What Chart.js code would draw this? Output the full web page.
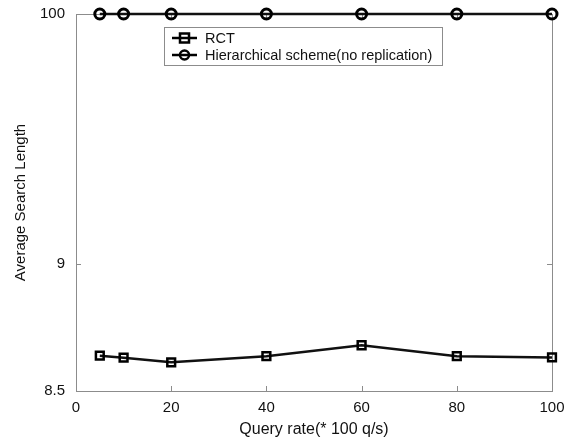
<!DOCTYPE html>
<html lang="en">
<head>
  <meta charset="UTF-8">
  <title>Average Search Length</title>
  <script src="https://cdn.jsdelivr.net/npm/chart.js"></script>
  <style>
    body { margin: 0; background: #fff; }
    #wrap { width: 568px; height: 442px; }
  </style>
</head>
<body>
  <div id="wrap"><canvas id="chart" width="568" height="442"></canvas></div>
  <script>
    const queryRates = [5, 10, 20, 40, 60, 80, 100];
    const rctValues = [8.639, 8.631, 8.613, 8.637, 8.680, 8.637, 8.632];
    const hierValues = [100, 100, 100, 100, 100, 100, 100];
    const xTicks = [0, 20, 40, 60, 80, 100];
    const yTicks = [8.5, 9, 100];
    // fraction of the plot height where each y tick sits (the axis is broken)
    const yTickFractions = [0, 0.337, 1];

    class BrokenScale extends Chart.LinearScale {
      buildTicks() {
        return yTicks.map(v => ({ value: v }));
      }
      toDecimal(v) {
        for (let i = 0; i < yTicks.length - 1; i++) {
          if (v <= yTicks[i + 1] || i === yTicks.length - 2) {
            const t = (v - yTicks[i]) / (yTicks[i + 1] - yTicks[i]);
            return yTickFractions[i] + t * (yTickFractions[i + 1] - yTickFractions[i]);
          }
        }
      }
      getPixelForValue(v) {
        return this.getPixelForDecimal(this.toDecimal(v));
      }
      getValueForPixel(p) {
        const d = this.getDecimalForPixel(p);
        for (let i = 0; i < yTicks.length - 1; i++) {
          if (d <= yTickFractions[i + 1] || i === yTicks.length - 2) {
            const t = (d - yTickFractions[i]) / (yTickFractions[i + 1] - yTickFractions[i]);
            return yTicks[i] + t * (yTicks[i + 1] - yTicks[i]);
          }
        }
      }
    }
    BrokenScale.id = 'broken';
    BrokenScale.defaults = Chart.LinearScale.defaults;
    Chart.register(BrokenScale);

    const frameColor = '#8c8c8c';
    const fontFamily = '"Liberation Sans", Arial, sans-serif';

    // box around plot with short inward ticks on all four sides
    const framePlugin = {
      id: 'frame',
      beforeDatasetsDraw(chart) {
        const { ctx, chartArea: a, scales } = chart;
        ctx.save();
        ctx.strokeStyle = frameColor;
        ctx.lineWidth = 1;
        ctx.strokeRect(a.left + 0.5, a.top + 0.5, a.right - a.left, a.bottom - a.top);
        ctx.beginPath();
        xTicks.forEach(v => {
          const x = Math.round(scales.x.getPixelForValue(v)) + 0.5;
          ctx.moveTo(x, a.bottom); ctx.lineTo(x, a.bottom - 5);
          ctx.moveTo(x, a.top); ctx.lineTo(x, a.top + 5);
        });
        yTicks.forEach(v => {
          const y = Math.round(scales.y.getPixelForValue(v)) + 0.5;
          ctx.moveTo(a.left, y); ctx.lineTo(a.left + 5, y);
          ctx.moveTo(a.right, y); ctx.lineTo(a.right - 5, y);
        });
        ctx.stroke();
        ctx.restore();
      }
    };

    // legend box drawn inside the plot
    const legendPlugin = {
      id: 'boxLegend',
      afterDraw(chart) {
        const { ctx } = chart;
        const x = 164, y = 27, w = 278, h = 38;
        ctx.save();
        ctx.fillStyle = '#fff';
        ctx.fillRect(x, y, w, h);
        ctx.strokeStyle = frameColor;
        ctx.lineWidth = 1;
        ctx.strokeRect(x + 0.5, y + 0.5, w, h);
        ctx.font = '14.5px ' + fontFamily;
        ctx.textBaseline = 'middle';
        chart.data.datasets.forEach((ds, i) => {
          const cy = y + 11 + i * 17;
          ctx.strokeStyle = '#000';
          ctx.lineWidth = 2.5;
          ctx.beginPath();
          ctx.moveTo(172, cy); ctx.lineTo(197, cy);
          ctx.stroke();
          ctx.beginPath();
          if (ds.pointStyle === 'rect') {
            ctx.rect(180, cy - 4.5, 9, 9);
          } else {
            ctx.arc(184.5, cy, 4.5, 0, Math.PI * 2);
          }
          ctx.stroke();
          ctx.fillStyle = '#111';
          ctx.fillText(ds.label, 205, cy + 1);
        });
        ctx.restore();
      }
    };

    new Chart(document.getElementById('chart'), {
      type: 'line',
      data: {
        datasets: [
          {
            label: 'RCT',
            data: queryRates.map((q, i) => ({ x: q, y: rctValues[i] })),
            borderColor: '#111',
            borderWidth: 2.5,
            pointStyle: 'rect',
            pointRadius: 5.5,
            pointBorderWidth: 2.5,
            pointBorderColor: '#000',
            pointBackgroundColor: 'rgba(0,0,0,0)',
            clip: false
          },
          {
            label: 'Hierarchical scheme(no replication)',
            data: queryRates.map((q, i) => ({ x: q, y: hierValues[i] })),
            borderColor: '#111',
            borderWidth: 2.5,
            pointStyle: 'circle',
            pointRadius: 5,
            pointBorderWidth: 3,
            pointBorderColor: '#000',
            pointBackgroundColor: 'rgba(0,0,0,0)',
            clip: false
          }
        ]
      },
      options: {
        responsive: false,
        animation: false,
        layout: { padding: { left: 12, top: 14, right: 16, bottom: 0 } },
        plugins: { legend: { display: false }, tooltip: { enabled: false } },
        scales: {
          x: {
            type: 'linear',
            min: 0,
            max: 100,
            afterBuildTicks: s => { s.ticks = xTicks.map(v => ({ value: v })); },
            afterFit: s => { s.height = 51; },
            grid: { display: false },
            border: { display: false },
            ticks: {
              color: '#111',
              padding: 0,
              maxRotation: 0,
              font: { family: fontFamily, size: 15 }
            },
            title: {
              display: true,
              text: 'Query rate(* 100 q/s)',
              color: '#111',
              padding: { top: 2, bottom: 3 },
              font: { family: fontFamily, size: 16 }
            }
          },
          y: {
            type: 'broken',
            min: 8.5,
            max: 100,
            afterFit: s => { s.width = 64; },
            grid: { display: false },
            border: { display: false },
            ticks: {
              color: '#111',
              padding: 3,
              callback: v => String(v),
              font: { family: fontFamily, size: 15 }
            },
            title: {
              display: true,
              text: 'Average Search Length',
              color: '#111',
              padding: { top: 0, bottom: 4 },
              font: { family: fontFamily, size: 15 }
            }
          }
        }
      },
      plugins: [framePlugin, legendPlugin]
    });
  </script>
</body>
</html>
